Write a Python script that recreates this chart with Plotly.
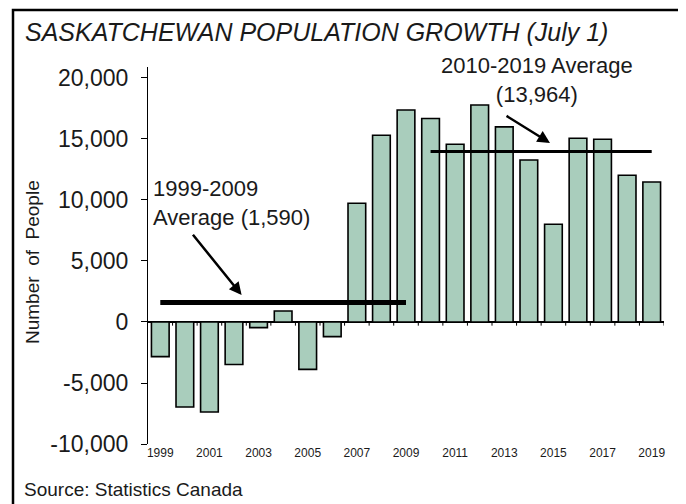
import plotly.graph_objects as go

years = list(range(1999, 2020))
growth = [-2840, -6970, -7380, -3490, -460, 900, -3880, -1200, 9730, 15310, 17380,
          16680, 14570, 17790, 15990, 13280, 8010, 15060, 14980, 12030, 11480]
avg_early_years = [1999, 2009]
avg_early = 1590
avg_late_years = [2010, 2019]
avg_late = 13964
x_tick_years = list(range(1999, 2020, 2))
x_tick_labels = [str(y) for y in x_tick_years]
y_ticks = [-10000, -5000, 0, 5000, 10000, 15000, 20000]
y_tick_labels = [f"{v:,}" for v in y_ticks]

FONT = "Arial, Liberation Sans, sans-serif"
OFF = 8  # page body margin offset
W, H = 686 - OFF, 504 - OFF
L, R, T, B = 148 - OFF, 22, 67 - OFF, 60
pw, ph = W - L - R, H - T - B

def px_x(p):
    # p: pixel in window coordinates
    return (p - OFF - L) / pw

def px_y(p):
    return (H - B - (p - OFF)) / ph

fig = go.Figure()
fig.add_trace(go.Bar(
    x=years, y=growth,
    marker=dict(color="#A9CDBC", line=dict(color="black", width=1.6)),
    width=0.72, showlegend=False, hoverinfo="x+y",
))
fig.add_trace(go.Scatter(
    x=avg_early_years, y=[avg_early, avg_early], mode="lines",
    line=dict(color="black", width=5), showlegend=False,
))
fig.add_trace(go.Scatter(
    x=avg_late_years, y=[avg_late, avg_late], mode="lines",
    line=dict(color="black", width=3), showlegend=False,
))

shapes = []
for yv in years:
    shapes.append(dict(type="line", xref="x", yref="y", x0=yv + 0.5, x1=yv + 0.5,
                       y0=0, y1=-300, line=dict(color="black", width=1)))
shapes.append(dict(type="rect", xref="paper", yref="paper",
                   x0=px_x(13), x1=px_x(685), y0=px_y(520), y1=px_y(10),
                   line=dict(color="black", width=2.5), layer="above"))

annotations = [
    dict(text="1999-2009<br>Average (1,590)", xref="paper", yref="paper",
         x=px_x(151), y=px_y(203), xanchor="left", yanchor="middle", align="left",
         showarrow=False, font=dict(family=FONT, size=22, color="#1a1a1a")),
    dict(text="", xref="x", yref="y", axref="x", ayref="y",
         x=2002.31, y=2213, ax=2000.28, ay=7270, showarrow=True,
         arrowhead=2, arrowsize=1, arrowwidth=2.5, arrowcolor="black"),
    dict(text="2010-2019 Average<br>(13,964)", xref="paper", yref="paper",
         x=px_x(537), y=px_y(80), xanchor="center", yanchor="middle", align="center",
         showarrow=False, font=dict(family=FONT, size=22, color="#1a1a1a")),
    dict(text="", xref="x", yref="y", axref="x", ayref="y",
         x=2014.86, y=14671, ax=2013.03, ay=16966, showarrow=True,
         arrowhead=2, arrowsize=1, arrowwidth=2.5, arrowcolor="black"),
    dict(text="Number  of  People", xref="paper", yref="paper",
         x=px_x(33), y=px_y(262), xanchor="center", yanchor="middle",
         textangle=-90, showarrow=False,
         font=dict(family=FONT, size=19, color="#1a1a1a")),
    dict(text="Source: Statistics Canada", xref="paper", yref="paper",
         x=px_x(22), y=px_y(489), xanchor="left", yanchor="middle",
         showarrow=False, font=dict(family=FONT, size=19, color="#1a1a1a")),
]

fig.update_layout(
    width=W, height=H,
    margin=dict(l=L, r=R, t=T, b=B, pad=0),
    paper_bgcolor="white", plot_bgcolor="white",
    title=dict(text="<i>SASKATCHEWAN POPULATION GROWTH (July 1)</i>",
               x=(25 - OFF) / W, xanchor="left", y=1 - (32 - OFF) / H, yanchor="middle",
               font=dict(family=FONT, size=25, color="#1a1a1a")),
    font=dict(family=FONT, color="#1a1a1a"),
    bargap=0.28,
    shapes=shapes,
    annotations=annotations,
    xaxis=dict(range=[1998.5, 2019.5], tickmode="array", tickvals=x_tick_years,
               ticktext=x_tick_labels, showgrid=False, zeroline=False,
               showline=False, ticks="", tickfont=dict(family=FONT, size=12, color="#1a1a1a")),
    yaxis=dict(range=[-10000, 20900], tickmode="array", tickvals=y_ticks,
               ticktext=y_tick_labels, showgrid=False, zeroline=True,
               zerolinecolor="black", zerolinewidth=1.5,
               showline=True, linecolor="black", linewidth=1.2,
               ticks="outside", ticklen=6, tickcolor="black", tickwidth=1,
               ticklabelstandoff=8,
               tickfont=dict(family=FONT, size=23, color="#1a1a1a")),
)

fig.write_html("out.html")
